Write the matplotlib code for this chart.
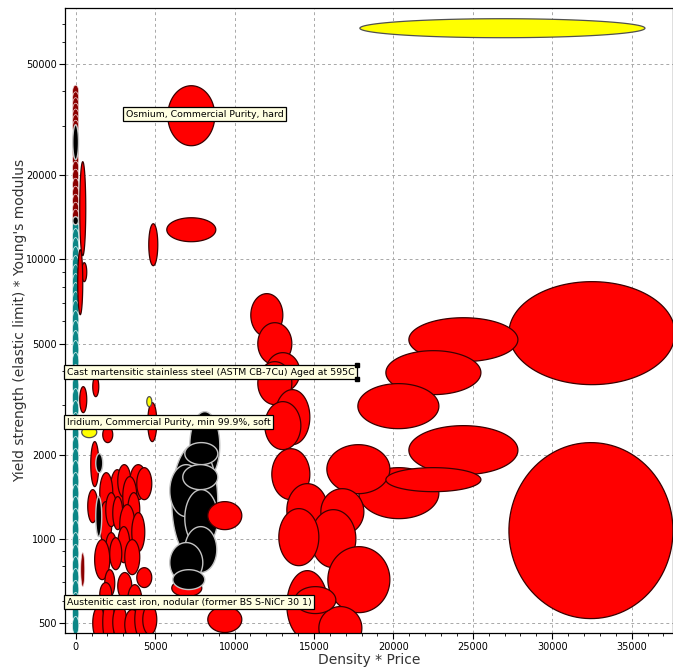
import numpy as np
import matplotlib
matplotlib.use('Agg')
import matplotlib.pyplot as plt
from matplotlib.patches import Polygon
from matplotlib.lines import Line2D
from matplotlib import ticker

# material ranges: density*price (lo, hi) and yield*modulus (lo, hi), drawn in list order
x_lo = [258, 384, 132, 258, 321,
        5800, 5737, 4603,
        17890,
        27272, 27272, 20975, 19527, 17764, 20975, 17827, 15812, 19527,
        11025, 11466, 11970, 11466, 12537, 11907, 12348, 13293, 15434, 14804, 12789,
        15875, 13293, 15308, 13797,
        7185, 6051, 5925, 6870, 6744, 6870, 6870, 6051, 5925, 6114, 8318, 8318,
        1077, 4540, 4477, 384, 1706, 951, 1266, 2147, 2651, 3407, 3848, 2966, 1518, 762,
        1518, 1266, 1895, 2336, 3281, 2777, 3533, 2651, 1895, 1196, 2147, 3092, 3848,
        1832, 2651, 1518, 3281,
        1077, 1706, 2336, 3092, 3722, 4225]
x_hi = [636, 699, 447, 699, 573,
        8759, 8822, 5170,
        35836,
        37724, 37598, 27838, 25509, 22864, 27838, 22864, 19779, 25509,
        13041, 13608, 14112, 13608, 14741, 14175, 14741, 15875, 18142, 17638, 15308,
        19779, 15875, 18016, 16379,
        9074, 8948, 8003, 8948, 8948, 8948, 8885, 7940, 8003, 8129, 10459, 10459,
        1455, 5107, 4792, 1329, 2336, 1455, 1706, 3092, 3470, 4477, 4792, 3848, 2336, 1392,
        2273, 1643, 2588, 2966, 4036, 3722, 4351, 3407, 2588, 2147, 2903, 4036, 4792,
        2462, 3533, 2273, 4162,
        1832, 2462, 3218, 4036, 4666, 5107]
y_lo = [10320, 8330, 6343, 2827, 673,
        25560, 11580, 9502,
        62300,
        3561, 517, 4305, 3280, 2477, 1695, 1179, 1449, 1473,
        5290, 4200, 3362, 3020, 2171, 2084, 1379, 1017, 1034, 787, 800,
        543, 435, 400, 539,
        1627, 841, 1199, 1841, 1498, 936, 756, 620, 696, 657, 1077, 461,
        3226, 2226, 2970, 2300, 2208, 1536, 1723, 1170, 1402, 1379, 1379, 1199, 1239, 1141,
        951, 1017, 1104, 1077, 1104, 951, 898, 820, 820, 713, 774, 743, 668,
        620, 605, 571, 534,
        435, 417, 435, 435, 435, 453]
y_hi = [22400, 9740, 10840, 3503, 891,
        41930, 14110, 13430,
        72870,
        8330, 2208, 6186, 4714, 3592, 2540, 1796, 2171, 1796,
        7545, 5937, 4637, 4305, 3418, 3096, 2100, 1574, 1510, 1270, 1281,
        936, 768, 571, 673,
        2850, 2171, 1841, 2208, 1841, 1498, 1104, 713, 968, 774, 1357, 571,
        3804, 3070, 3226, 2518, 2518, 2226, 2016, 1766, 1841, 1841, 1796, 1668, 1723, 1498,
        1357, 1414, 1461, 1414, 1461, 1324, 1239, 1104, 1051, 992, 1008, 992, 787,
        774, 756, 696, 684,
        571, 605, 580, 557, 605, 580]
kind = ['red', 'red', 'red', 'red', 'darkred',
        'red', 'red', 'red',
        'yellow',
        'red', 'red', 'red', 'red', 'red', 'red', 'red', 'red', 'red',
        'red', 'red', 'red', 'red', 'red', 'red', 'red', 'red', 'red', 'red', 'red',
        'red', 'red', 'red', 'red',
        'black', 'black', 'black', 'black', 'black', 'black', 'black', 'red', 'black', 'black', 'red', 'red',
        'red', 'red', 'yellow', 'yellow', 'red', 'red', 'black', 'red', 'red', 'red', 'red', 'red', 'red', 'red',
        'red', 'black', 'red', 'red', 'red', 'red', 'red', 'red', 'red', 'red', 'red', 'red', 'red',
        'red', 'red', 'red', 'red',
        'red', 'red', 'red', 'red', 'red', 'red']

# thin column of cheap materials at density*price ~ 0 (centres only)
column_darkred_y = [39900, 37800, 36000, 34400, 32800, 31300, 29900, 24000, 22780,
                    21320, 19960, 18530, 17350, 16240, 15200, 14350]
column_black_lo = [22780, 13320]
column_black_hi = [30390, 14230]
column_teal_y = [13000, 11970, 11110, 10320, 9580, 8895, 8258, 7667, 7118, 6610,
                 6085, 5606, 5161, 4753, 4305, 3899, 3532, 3199, 2897, 2624, 2377,
                 2153, 1950, 1766, 1600, 1449, 1313, 1189, 1077, 975, 884, 800, 725,
                 657, 595, 539, 488]

y_ticks = [500, 1000, 2000, 5000, 10000, 20000, 50000]

labels = ['Osmium, Commercial Purity, hard',
          'Cast martensitic stainless steel (ASTM CB-7Cu) Aged at 595C',
          'Iridium, Commercial Purity, min 99.9%, soft',
          'Austenitic cast iron, nodular (former BS S-NiCr 30 1)']
label_x = [3155, -560, -560, -560]
label_y = [33140, 3948, 2614, 592]

styles = {'red': ('#ff0000', '#3a0000', 0.9),
          'black': ('#000000', '#c4c4c4', 1.0),
          'yellow': ('#ffff00', '#505050', 0.9),
          'darkred': ('#8b0000', '#f0d8d8', 0.5),
          'teal': ('#0b8686', '#e8f4f4', 0.5)}


def ellipse(ax, x0, x1, y0, y1, k):
    # ellipse in screen space: linear in x, log in y
    t = np.linspace(0, 2 * np.pi, 120)
    xc, xr = (x0 + x1) / 2, (x1 - x0) / 2
    lc = (np.log10(y0) + np.log10(y1)) / 2
    lr = (np.log10(y1) - np.log10(y0)) / 2
    xs = xc + xr * np.cos(t)
    ys = 10 ** (lc + lr * np.sin(t))
    fc, ec, lw = styles[k]
    ax.add_patch(Polygon(np.column_stack([xs, ys]), closed=True, fc=fc, ec=ec, lw=lw))


fig = plt.figure(figsize=(6.73, 6.70), dpi=100)
ax = fig.add_axes([65 / 673, 36.7 / 670, 608 / 673, 625.3 / 670])
ax.set_yscale('log')
ax.set_xlim(-670, 37600)
ax.set_ylim(458, 79600)

ax.grid(True, which='major', color='#a8a8a8', linestyle=(0, (3, 3)), linewidth=0.7)
ax.set_axisbelow(True)

# column at x ~ 0
for y in column_teal_y:
    ellipse(ax, -200, 200, y / 1.078, y * 1.078, 'teal')
for y in column_darkred_y:
    ellipse(ax, -190, 190, y / 1.055, y * 1.055, 'darkred')
for lo, hi in zip(column_black_lo, column_black_hi):
    ellipse(ax, -180, 180, lo, hi, 'black')

for i in range(len(kind)):
    ellipse(ax, x_lo[i], x_hi[i], y_lo[i], y_hi[i], kind[i])

# axes, ticks
ax.yaxis.set_major_locator(ticker.FixedLocator(y_ticks))
ax.yaxis.set_major_formatter(ticker.StrMethodFormatter('{x:.0f}'))
ax.yaxis.set_minor_locator(ticker.LogLocator(base=10, subs=range(2, 10)))
ax.yaxis.set_minor_formatter(ticker.NullFormatter())
ax.xaxis.set_major_locator(ticker.MultipleLocator(5000))
ax.xaxis.set_minor_locator(ticker.MultipleLocator(1000))
ax.tick_params(which='major', length=4, width=0.8, labelsize=7, pad=2)
ax.tick_params(which='minor', length=2.5, width=0.6)
for s in ax.spines.values():
    s.set_linewidth(0.9)

ax.set_xlabel('Density * Price', fontsize=10, color='#333333', labelpad=1)
ax.set_ylabel("Yield strength (elastic limit) * Young's modulus", fontsize=10,
              color='#333333', labelpad=-1)

# tooltips
texts = []
for lab, lx, ly in zip(labels, label_x, label_y):
    t = ax.text(lx, ly, lab, fontsize=6.75, ha='left', va='center', zorder=10,
                clip_on=False,
                bbox=dict(boxstyle='square,pad=0.28', fc='#ffffe1', ec='black', lw=0.9))
    texts.append(t)

# selection handles on the stainless steel tooltip
fig.canvas.draw()
bb = texts[1].get_bbox_patch().get_window_extent()
for yy in (bb.y0, bb.y1):
    fig.add_artist(Line2D([bb.x1], [yy], marker='s', markersize=3, color='black',
                          transform=None, zorder=11))

fig.savefig('out.png', dpi=100)
